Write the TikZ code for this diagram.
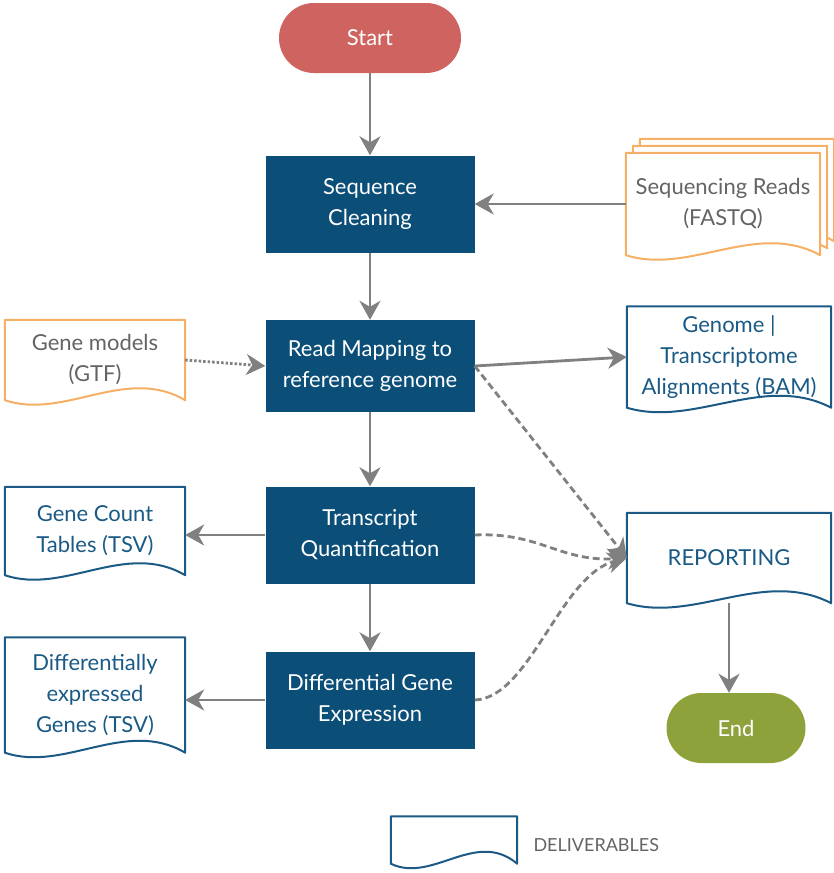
\documentclass[tikz,border=0pt]{standalone}
\usepackage{fontspec}
\setmainfont{Lato}
\usetikzlibrary{arrows.meta,calc,backgrounds}

\definecolor{startred}{RGB}{207,99,96}
\definecolor{endgreen}{RGB}{142,162,59}
\definecolor{boxblue}{RGB}{11,78,120}
\definecolor{docblue}{RGB}{26,90,133}
\definecolor{docorange}{RGB}{246,176,102}
\definecolor{linegray}{RGB}{128,128,128}
\definecolor{textgray}{RGB}{100,100,100}

% outline of a document shape round node #1, shifted by #2, in colour #3
\newcommand{\docpath}[3]{%
  \begin{scope}[on background layer]
  \coordinate (p) at ([shift={(#2,-#2)}]#1.north west);
  \coordinate (q) at ([shift={(#2,-#2)}]#1.south east);
  \path[draw=#3,line width=2pt,line join=round,fill=white] (q) -- (p -| q) -- (p) -- (p |- q)
    .. controls ($(p |- q)!0.33!(q)+(0,20)$) and ($(p |- q)!0.67!(q)+(0,-35)$) .. (q) -- cycle;
  \end{scope}}

\tikzset{
  stepbox/.style={fill=boxblue,text=white,minimum width=209pt,minimum height=97pt,inner sep=0pt,align=center},
  pill/.style={rounded corners=35pt,minimum height=70pt,inner sep=0pt,text=white},
  doc/.style={minimum width=#1,inner sep=0pt,align=center},
  link/.style={draw=linegray,line width=2.8pt,-{Stealth[length=19pt,width=21pt,inset=6pt]}},
  dashlink/.style={link,dash pattern=on 7pt off 4pt},
  dotlink/.style={link,dash pattern=on 2.5pt off 2pt},
}

\begin{document}
\begin{tikzpicture}[x=1pt,y=-1pt,font=\fontsize{22}{31}\selectfont]
\useasboundingbox (0,0) rectangle (833,873);
% terminals and process steps:
\node[pill,fill=startred,minimum width=182pt] (start) at (370,38) {Start};
\node[stepbox] (sc) at (370,204) {Sequence\\Cleaning};
\node[stepbox,minimum height=92pt] (rm) at (370,366) {Read Mapping to\\reference genome};
\node[stepbox] (tq) at (370,535) {Transcript\\Quantification};
\node[stepbox] (dge) at (370,700) {Differential Gene\\Expression};
\node[pill,fill=endgreen,minimum width=139pt] (end) at (736,728) {End};
% inputs:
\node[doc=194pt,minimum height=102pt,text=textgray] (reads) at (723,204) {Sequencing Reads\\(FASTQ)};
\docpath{reads}{14}{docorange}
\docpath{reads}{7}{docorange}
\docpath{reads}{0}{docorange}
\node[doc=180pt,minimum height=80pt,text=textgray] (gtf) at (95,360) {Gene models\\(GTF)};
\docpath{gtf}{0}{docorange}
% deliverables:
\node[doc=204pt,minimum height=101pt,text=docblue] (bam) at (729,357) {Genome |\\Transcriptome\\Alignments (BAM)};
\docpath{bam}{0}{docblue}
\node[doc=180pt,minimum height=88pt,text=docblue] (counts) at (95,531) {Gene Count\\Tables (TSV)};
\docpath{counts}{0}{docblue}
\node[doc=180pt,minimum height=115pt,text=docblue] (degs) at (95,695) {Differentially\\expressed\\Genes (TSV)};
\docpath{degs}{0}{docblue}
\node[doc=204pt,minimum height=90pt,text=docblue] (report) at (729,558) {REPORTING};
\docpath{report}{0}{docblue}
% legend:
\node[doc=126pt,minimum height=47pt] (legend) at (454,840) {};
\docpath{legend}{0}{docblue}
\node[anchor=west,text=textgray,font=\fontsize{18}{22}\selectfont] (legendtext) at (530,845) {DELIVERABLES};
% connectors:
\draw[link] (start) -- (sc);
\draw[link] (reads.west) -- (sc.east |- reads.west);
\draw[link] (sc) -- (rm);
\draw[dotlink] (gtf.east) -- (rm.west);
\draw[link] (rm.east) -- (bam.west);
\draw[dashlink] (rm.east) -- (report.west);
\draw[link] (rm) -- (tq);
\draw[link] (tq.west) -- (counts.east |- tq.west);
\draw[dashlink] (tq.east) .. controls (540,532) and (560,562) .. (report.west);
\draw[link] (tq) -- (dge);
\draw[link] (dge.west) -- (degs.east |- dge.west);
\draw[dashlink] (dge.east) .. controls (530,698) and (560,575) .. (report.west);
\draw[link] (report.south) -- (report.south |- end.north);
\end{tikzpicture}
\end{document}
